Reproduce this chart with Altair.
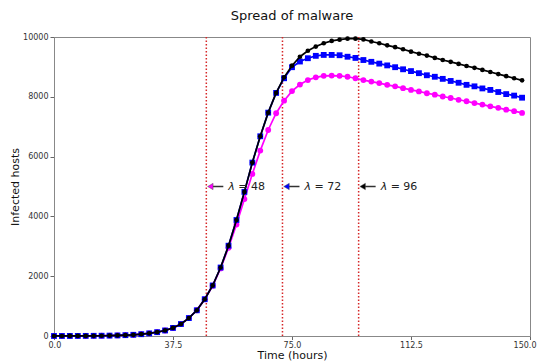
import altair as alt
import pandas as pd

FONT = "DejaVu Sans"

hours = [0.0, 2.5, 5.0, 7.5, 10.0, 12.5, 15.0, 17.5, 20.0, 22.5,
         25.0, 27.5, 30.0, 32.5, 35.0, 37.5, 40.0, 42.5, 45.0, 47.5,
         50.0, 52.5, 55.0, 57.5, 60.0, 62.5, 65.0, 67.5, 70.0, 72.5,
         75.0, 77.5, 80.0, 82.5, 85.0, 87.5, 90.0, 92.5, 95.0, 97.5,
         100.0, 102.5, 105.0, 107.5, 110.0, 112.5, 115.0, 117.5, 120.0, 122.5,
         125.0, 127.5, 130.0, 132.5, 135.0, 137.5, 140.0, 142.5, 145.0, 147.5]

# lambda = 96 (black)
infected_96 = [1, 1, 2, 3, 4, 6, 9, 13, 19, 28,
               40, 60, 88, 128, 185, 270, 400, 600, 860, 1230,
               1690, 2290, 3020, 3880, 4820, 5800, 6680, 7470, 8130, 8650,
               9040, 9340, 9540, 9680, 9790, 9870, 9910, 9945, 9945, 9920,
               9850, 9790, 9720, 9660, 9590, 9510, 9440, 9380, 9300, 9230,
               9170, 9100, 9030, 8970, 8900, 8830, 8760, 8690, 8620, 8550]

# lambda = 72 (blue)
infected_72 = [1, 1, 2, 3, 4, 6, 9, 13, 19, 28,
               40, 60, 88, 128, 185, 270, 400, 600, 860, 1230,
               1690, 2290, 3020, 3880, 4820, 5800, 6680, 7470, 8130, 8620,
               8990, 9180, 9290, 9370, 9400, 9400, 9390, 9340, 9300, 9230,
               9170, 9110, 9050, 8990, 8920, 8860, 8790, 8720, 8670, 8600,
               8530, 8470, 8400, 8350, 8280, 8230, 8160, 8090, 8040, 7970]

# lambda = 48 (magenta)
infected_48 = [1, 1, 2, 3, 4, 6, 9, 13, 19, 28,
               40, 60, 88, 128, 185, 270, 400, 600, 860, 1230,
               1680, 2260, 2950, 3730, 4580, 5420, 6200, 6890, 7450, 7870,
               8190, 8410, 8560, 8650, 8700, 8710, 8700, 8670, 8620, 8560,
               8510, 8460, 8400, 8350, 8290, 8230, 8180, 8120, 8070, 8010,
               7960, 7900, 7850, 7790, 7740, 7680, 7630, 7570, 7520, 7460]

lambdas = [48, 72, 96]
series_colors = ["#ff00ff", "#0000ff", "#000000"]
series_shapes = ["circle", "square", "circle"]
series_sizes = [34, 34, 22]
annot_y = 5000

x_ticks = [0.0, 37.5, 75.0, 112.5, 150.0]
y_ticks = [0, 2000, 4000, 6000, 8000, 10000]

xscale = alt.Scale(domain=[0, 150], nice=False, zero=False)
yscale = alt.Scale(domain=[0, 10000], nice=False)

x_axis = alt.Axis(values=x_ticks, format=".1f", title="Time (hours)", grid=False,
                  tickSize=3.5, labelPadding=2, titlePadding=0,
                  labelFlush=True, labelFlushOffset=6, labelOverlap=False)
y_axis = alt.Axis(values=y_ticks, format="d", title="Infected hosts", grid=False,
                  tickSize=4, labelPadding=2, titlePadding=2,
                  labelFlush=False, labelOverlap=False)

layers = []

# vertical dotted red lines
vdf = pd.DataFrame({"lam": lambdas})
vlines = alt.Chart(vdf).mark_rule(color="#d62728", strokeDash=[1.5, 2], strokeWidth=1.5).encode(
    x=alt.X("lam:Q", scale=xscale, axis=x_axis),
)
layers.append(vlines)

series_data = [infected_48, infected_72, infected_96]
for vals, col, shp, sz in zip(series_data, series_colors, series_shapes, series_sizes):
    df = pd.DataFrame({"t": hours, "v": vals})
    base = alt.Chart(df).encode(
        x=alt.X("t:Q", scale=xscale, axis=x_axis),
        y=alt.Y("v:Q", scale=yscale, axis=y_axis),
    )
    layers.append(base.mark_line(color=col, strokeWidth=1.7))
    layers.append(base.mark_point(color=col, filled=True, shape=shp, size=sz, opacity=1))

# annotations
adf = pd.DataFrame({
    "lam": lambdas,
    "y": [annot_y] * 3,
    "col": series_colors,
    "lab": [f"= {l}" for l in lambdas],
})
abase = alt.Chart(adf).encode(
    x=alt.X("lam:Q", scale=xscale, axis=x_axis),
    y=alt.Y("y:Q", scale=yscale, axis=y_axis),
)
shaft = abase.mark_rule(color="#333333", strokeWidth=1.5, xOffset=4, x2Offset=17).encode(
    x2=alt.X2("lam:Q"),
)
head = abase.mark_point(shape="triangle-left", filled=True, size=40, opacity=1,
                        stroke="#555555", strokeWidth=0.5, xOffset=4).encode(
    color=alt.Color("col:N", scale=None),
)
lam_txt = abase.mark_text(text="λ", align="left", baseline="middle", font=FONT,
                          fontSize=11, fontStyle="italic", dx=22, color="#222222")
val_txt = abase.mark_text(align="left", baseline="middle", font=FONT,
                          fontSize=11, dx=32, color="#222222").encode(text="lab:N")
layers += [shaft, head, lam_txt, val_txt]

chart = alt.layer(*layers).properties(
    width=476,
    height=299,
    autosize=alt.AutoSizeParams(type="none"),
    padding={"left": 46, "top": 29, "right": 9, "bottom": 26},
    title=alt.TitleParams("Spread of malware", font=FONT, fontSize=13,
                          fontWeight="normal", color="#111111", offset=10, anchor="middle"),
).configure_view(
    stroke="#888888", strokeWidth=1,
).configure_axis(
    labelFont=FONT, labelFontSize=8, labelColor="#333333",
    titleFont=FONT, titleFontSize=11, titleFontWeight="normal", titleColor="#111111",
    domainColor="#888888", tickColor="#666666", domainWidth=1,
)

chart.save("out.html", embed_options={"renderer": "svg", "actions": False})
